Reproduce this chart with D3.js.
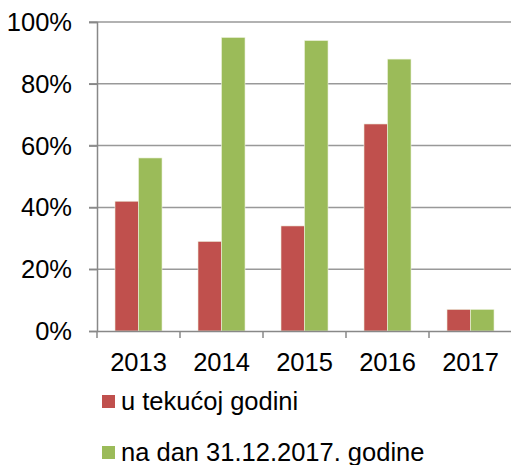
<!DOCTYPE html>
<html>
<head>
<meta charset="utf-8">
<script src="https://cdn.jsdelivr.net/npm/d3@7"></script>
<style>
  body { margin: 0; background: #fff; }
  text { font-family: "Liberation Sans", Arial, sans-serif; fill: #000; }
</style>
</head>
<body>
<svg></svg>
<script>
const width = 511, height = 465;
const svg = d3.select("svg").attr("width", width).attr("height", height);

// Data
const years = ["2013", "2014", "2015", "2016", "2017"];
const currentYear = [42, 29, 34, 67, 7];     // u tekućoj godini
const atDate = [56, 95, 94, 88, 7];          // na dan 31.12.2017. godine
const seriesNames = ["u tekućoj godini", "na dan 31.12.2017. godine"];
const colors = ["#C0504D", "#9BBB59"];
const yTicks = [0, 20, 40, 60, 80, 100];

const plotLeft = 97, plotRight = 512, plotTop = 22, plotBottom = 331;
const fontSize = "25.5px";

const x = d3.scaleBand().domain(years).range([plotLeft, plotRight]).paddingInner(0).paddingOuter(0);
const inner = d3.scaleBand().domain([0, 1]).range([0, x.bandwidth()]).paddingInner(0).paddingOuter(0.765);
const y = d3.scaleLinear().domain([0, 100]).range([plotBottom, plotTop]);

// Gridlines
svg.append("g").selectAll("line")
    .data(yTicks.filter(d => d > 0))
    .enter().append("line")
    .attr("x1", plotLeft - 8).attr("x2", plotRight)
    .attr("y1", d => y(d)).attr("y2", d => y(d))
    .attr("stroke", "#999").attr("stroke-width", 1.5);

// Bars
const rows = years.map((yr, i) => ({ year: yr, values: [currentYear[i], atDate[i]] }));
const group = svg.append("g").selectAll("g")
    .data(rows)
    .enter().append("g")
    .attr("transform", d => `translate(${x(d.year)},0)`);

group.selectAll("rect")
    .data(d => d.values.map((v, k) => ({ k, v })))
    .enter().append("rect")
    .attr("x", d => inner(d.k))
    .attr("width", inner.bandwidth())
    .attr("y", d => y(d.v))
    .attr("height", d => y(0) - y(d.v))
    .attr("fill", d => colors[d.k])
    .attr("stroke", "#eef3e0").attr("stroke-width", 0.6);

// Y axis
const yAxis = d3.axisLeft(y).tickValues(yTicks).tickSize(8).tickPadding(17).tickFormat(d => d + "%");
const gy = svg.append("g").attr("transform", `translate(${plotLeft},0)`).call(yAxis);
gy.select(".domain").attr("stroke", "#888").attr("stroke-width", 1.5);
gy.selectAll(".tick line").attr("stroke", "#888").attr("stroke-width", 1.5);
gy.selectAll(".tick text").attr("font-size", fontSize).attr("font-family", "Liberation Sans, Arial, sans-serif").attr("dy", "0.33em");

// X axis
const xAxis = d3.axisBottom(x).tickSize(0).tickPadding(22);
const gx = svg.append("g").attr("transform", `translate(0,${plotBottom})`).call(xAxis);
gx.select(".domain").attr("stroke", "#888").attr("stroke-width", 1.5);
gx.selectAll(".tick text").attr("font-size", fontSize).attr("font-family", "Liberation Sans, Arial, sans-serif");
// category separators
gx.append("g").selectAll("line")
    .data(years.concat(["end"]))
    .enter().append("line")
    .attr("x1", (d, i) => plotLeft + i * x.bandwidth())
    .attr("x2", (d, i) => plotLeft + i * x.bandwidth())
    .attr("y1", 0).attr("y2", 7)
    .attr("stroke", "#888").attr("stroke-width", 1.5);

// Legend
const legend = svg.append("g").selectAll("g")
    .data(seriesNames)
    .enter().append("g")
    .attr("transform", (d, i) => `translate(102,${395 + i * 51})`);
legend.append("rect").attr("width", 13).attr("height", 13).attr("fill", (d, i) => colors[i]);
legend.append("text").attr("x", 19).attr("y", 14.5).attr("font-size", fontSize).text(d => d);
</script>
</body>
</html>
